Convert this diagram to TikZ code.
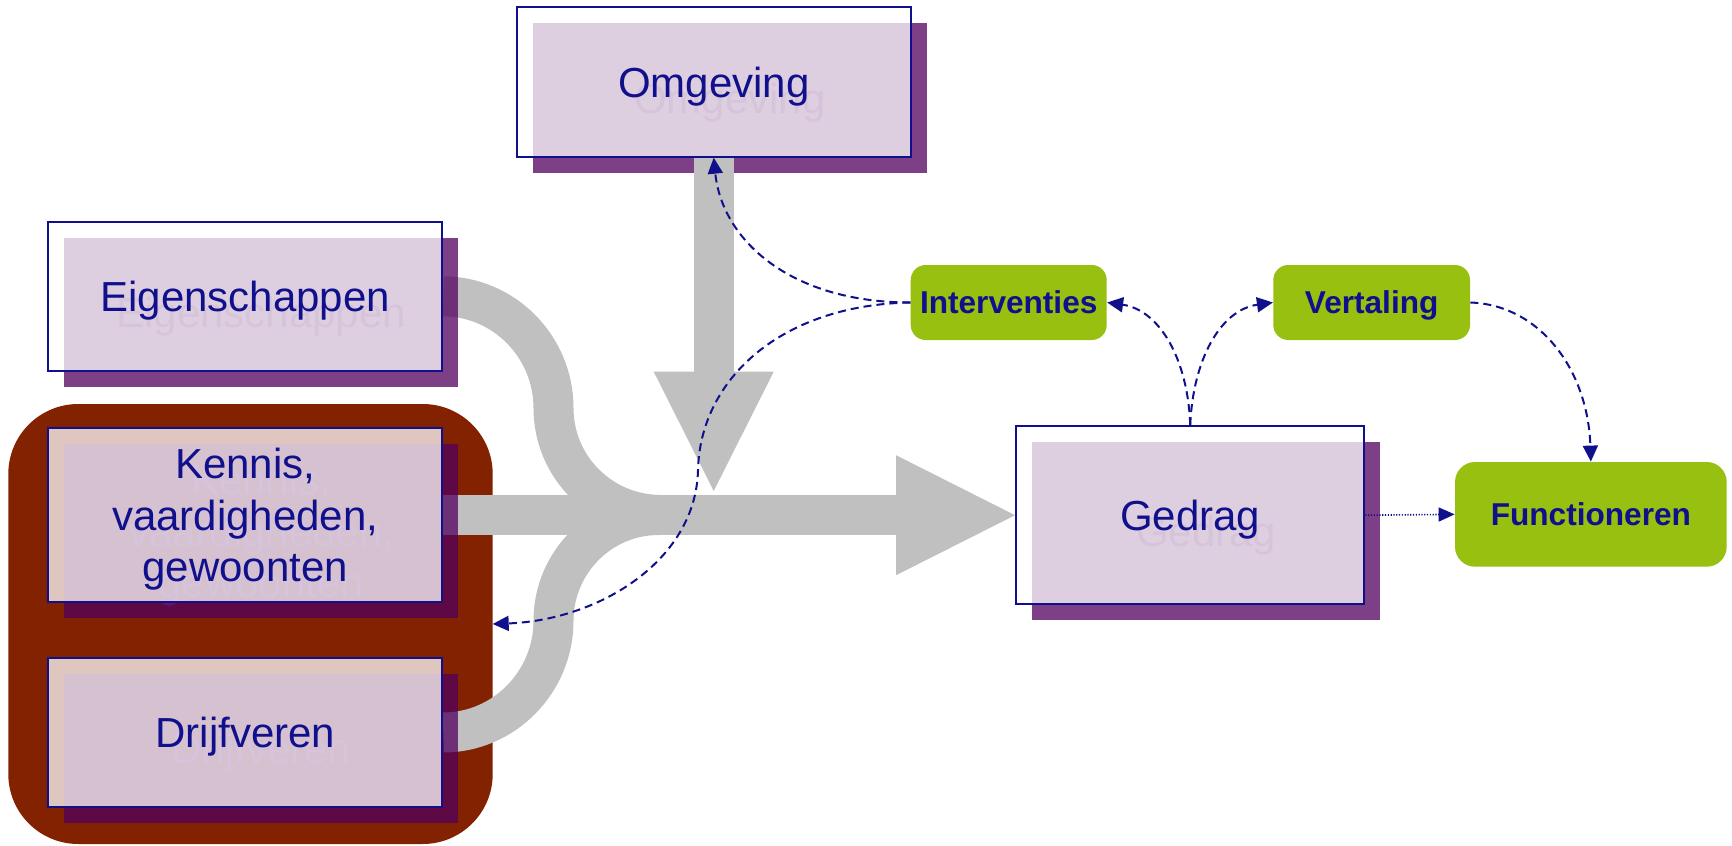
\documentclass[tikz,border=0pt]{standalone}
\usepackage{fontspec}
\setmainfont{Liberation Sans}
\usetikzlibrary{arrows.meta}
\pgfdeclarelayer{back}
\pgfdeclarelayer{mid}
\pgfsetlayers{back,mid,main}
\definecolor{navyc}{RGB}{16,16,140}
\definecolor{maroonc}{RGB}{130,34,0}
\definecolor{shadowc}{RGB}{82,0,94}
\definecolor{greenc}{RGB}{152,192,16}
\definecolor{bandc}{RGB}{192,192,192}
\definecolor{ghostc}{RGB}{95,20,115}
\tikzset{
  shadowbox/.style={fill=shadowc, fill opacity=0.75, draw=none, inner sep=0pt, outer sep=0pt},
  mainbox/.style={draw=navyc, line width=1pt, fill=white, fill opacity=0.75, text opacity=1,
    text=navyc, font=\fontsize{21}{25.85}\selectfont, align=center, text depth=0pt, inner sep=0pt},
  ghosttext/.style={text=ghostc, font=\fontsize{21}{25.85}\selectfont, align=center, text depth=0pt, inner sep=0pt},
  greenbox/.style={fill=greenc, draw=none, rounded corners=7.5pt, text=navyc,
    font=\fontsize{15.8}{19}\selectfont\bfseries, text depth=0pt},
  band/.style={draw=bandc, line width=20pt},
  dconn/.style={draw=navyc, line width=1pt, dash pattern=on 4pt off 2.5pt, -{Triangle[length=8pt,width=7.5pt]}},
  dotconn/.style={draw=navyc, line width=0.8pt, dash pattern=on 0.6pt off 0.8pt, -{Triangle[length=8pt,width=7pt]}},
}
\newcommand\ombox[6]{%
  \node[shadowbox, minimum width=#4, minimum height=#5] (#1-sh) at ({#2+16},{#3+16}) {};
  \node[ghosttext] (#1-gh) at ({#2+16},{#3+16}) {#6};
  \node[mainbox, minimum width=#4, minimum height=#5] (#1) at (#2,#3) {#6};}
\begin{document}
\begin{tikzpicture}[x=0.5pt,y=-0.5pt]
\useasboundingbox (0,0) rectangle (1732,845);
\begin{pgfonlayer}{back}
  \fill[white] (0,0) rectangle (1732,845);
  \node[fill=maroonc, rounded corners=35pt, minimum width=242.2pt, minimum height=220pt,
        inner sep=0pt, outer sep=0pt] (grp) at (250.5,624) {};
  \ombox{omg}{713.7}{82}{197pt}{74.7pt}{Omgeving}
\end{pgfonlayer}

\ombox{eig}{245.3}{296.35}{197pt}{74.65pt}{Eigenschappen}
\ombox{ken}{245.3}{515}{197pt}{87.3pt}{Kennis,\\vaardigheden,\\gewoonten}
\ombox{drij}{245.3}{732.5}{197pt}{74.2pt}{Drijfveren}
\ombox{ged}{1190.2}{515.2}{174.15pt}{89.15pt}{Gedrag}

\node[greenbox, minimum width=98pt, minimum height=37.5pt] (interv) at (1008.7,302.5) {Interventies};
\node[greenbox, minimum width=98.35pt, minimum height=37.5pt] (vert) at (1371.65,302.5) {Vertaling};
\node[greenbox, rounded corners=10pt, minimum width=135.85pt, minimum height=52.35pt] (func) at (1590.85,514.35) {Functioneren};

\begin{pgfonlayer}{mid}
  \draw[band] (eig.east) .. controls (503.6,296.35) and (553.5,346.4) .. (553.5,408)
              .. controls (553.5,467.5) and (601.7,515) .. (661.2,515);
  \draw[band] (drij.east) .. controls (503.6,732.5) and (553.5,682.3) .. (553.5,620.7)
              .. controls (553.5,562.7) and (600.5,515) .. (658.5,515);
  \coordinate (hb) at (896,515);
  \draw[band] (ken.east) -- (hb);
  \fill[bandc] (896,455.2) -- (ged.west) -- (896,575.2) -- cycle;
  \coordinate (vb) at (713.7,371.7);
  \draw[band] (omg.south) -- (vb);
  \fill[bandc] (653.7,371.7) -- (773.7,371.7) -- (713.7,491) -- cycle;
\end{pgfonlayer}

\draw[dconn] (interv.west) .. controls (790,302.5) and (722,240) .. (omg.south);
\draw[dconn] (interv.west) .. controls (780,305) and (700,380) .. (698,470)
             .. controls (696,560) and (600,620) .. (grp.east);
\draw[dconn] (ged.north) .. controls (1188,360) and (1160,310) .. (interv.east);
\draw[dconn] (ged.north) .. controls (1193,360) and (1220,310) .. (vert.west);
\draw[dconn] (vert.east) .. controls (1540,305) and (1588,370) .. (func.north);
\draw[dotconn] (ged.east) -- (func.west);
\end{tikzpicture}
\end{document}
